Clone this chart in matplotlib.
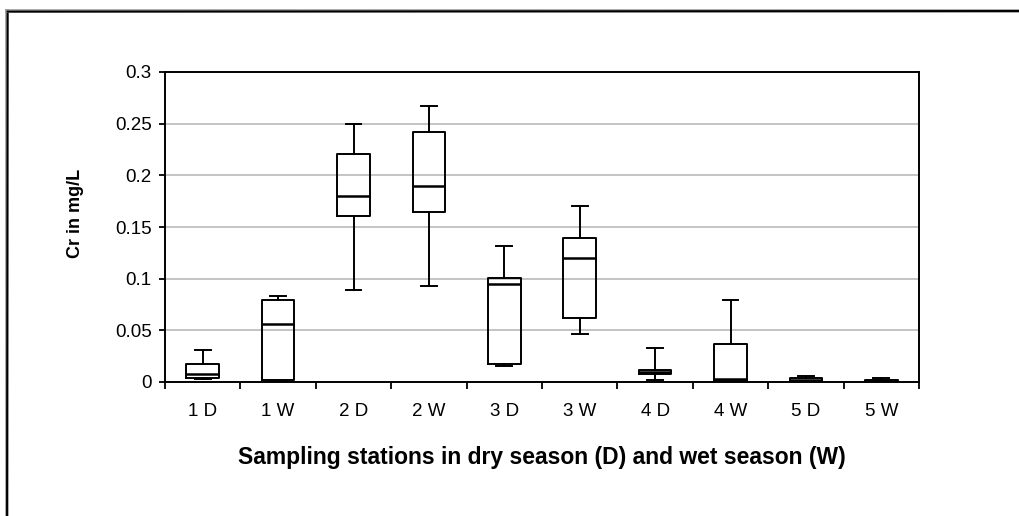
import matplotlib
matplotlib.use("Agg")
import matplotlib.pyplot as plt
from matplotlib.lines import Line2D

plt.rcParams['font.family'] = ['Liberation Sans', 'DejaVu Sans']

# stations, dry (D) and wet (W) season
stations = ['1 D', '1 W', '2 D', '2 W', '3 D', '3 W', '4 D', '4 W', '5 D', '5 W']

# Cr concentration summary per station (mg/L)
cr_min = [0.003, 0.001, 0.089, 0.093, 0.0155, 0.0465, 0.002, 0.0, 0.0005, 0.0]
cr_q1 = [0.0035, 0.002, 0.161, 0.1645, 0.0174, 0.062, 0.0077, 0.001, 0.001, 0.0005]
cr_median = [0.0074, 0.056, 0.180, 0.190, 0.0945, 0.1197, 0.0097, 0.003, 0.0015, 0.001]
cr_q3 = [0.0174, 0.0797, 0.2203, 0.242, 0.1003, 0.139, 0.0116, 0.0368, 0.004, 0.002]
cr_max = [0.031, 0.0835, 0.250, 0.2674, 0.1316, 0.1703, 0.0332, 0.0797, 0.006, 0.004]

y_ticks = [0, 0.05, 0.1, 0.15, 0.2, 0.25, 0.3]
y_tick_labels = ['0', '0.05', '0.1', '0.15', '0.2', '0.25', '0.3']

stats = []
for name, lo, q1, med, q3, hi in zip(stations, cr_min, cr_q1, cr_median, cr_q3, cr_max):
    stats.append({'label': name, 'whislo': lo, 'q1': q1, 'med': med,
                  'q3': q3, 'whishi': hi, 'fliers': []})

fig = plt.figure(figsize=(10.2, 5.16), dpi=100)
ax = fig.add_axes([165 / 1020, 1 - 382 / 516, 754 / 1020, 310 / 516])

positions = list(range(len(stations)))
line_kw = dict(color='black', linewidth=1.4)
ax.bxp(stats, positions=positions, widths=0.43, capwidths=0.21,
       showfliers=False, patch_artist=False,
       boxprops=line_kw, whiskerprops=line_kw, capprops=line_kw,
       medianprops=dict(color='black', linewidth=1.8))

ax.set_xlim(-0.5, len(stations) - 0.5)
ax.set_ylim(0, 0.3)

ax.set_yticks(y_ticks)
ax.set_yticklabels(y_tick_labels, fontsize=13.5)
ax.yaxis.grid(True, color='#c4c4c4', linewidth=1.4)
ax.set_axisbelow(True)

# tick marks between stations, labels in the middle
ax.set_xticks([i - 0.5 for i in range(len(stations) + 1)])
ax.set_xticklabels([])
ax.set_xticks(positions, minor=True)
ax.set_xticklabels(stations, minor=True, fontsize=13.5)
ax.tick_params(axis='x', which='major', direction='out', length=5, width=1.3)
ax.tick_params(axis='x', which='minor', length=0, pad=15)
ax.tick_params(axis='y', direction='out', length=4.5, width=1.3, pad=5)

for sp in ax.spines.values():
    sp.set_linewidth(1.4)
    sp.set_color('black')

ax.set_ylabel('Cr in mg/L', fontsize=13, fontweight='bold', va='center')
ax.yaxis.set_label_coords(-0.119, 0.545)
ax.set_xlabel('Sampling stations in dry season (D) and wet season (W)',
              fontsize=16.5, fontweight='bold')
ax.xaxis.set_label_coords(0.5, -0.242)
ax.xaxis.label.set_va('center')

# chart frame
for x0, y0, x1, y1 in [(7, 11, 7, 520), (7, 11, 1025, 11)]:
    fig.add_artist(Line2D([x0 / 1020, x1 / 1020], [1 - y0 / 516, 1 - y1 / 516],
                          transform=fig.transFigure, color='#9a9a9a', linewidth=2.6))
    fig.add_artist(Line2D([(x0 + 0.6) / 1020, x1 / 1020],
                          [1 - (y0 + 0.6) / 516, 1 - y1 / 516],
                          transform=fig.transFigure, color='black', linewidth=1.4))

fig.savefig('out.png', dpi=100)
